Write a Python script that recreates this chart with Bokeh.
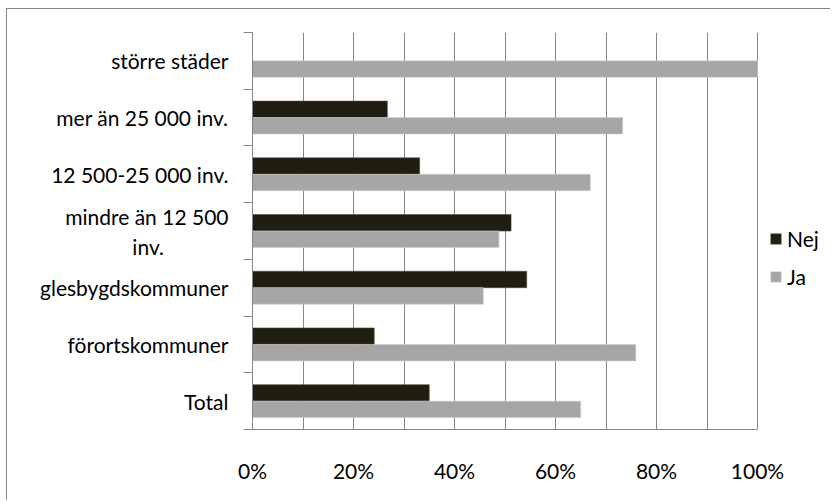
from bokeh.plotting import figure
from bokeh.models import FixedTicker, Legend, LegendItem
from bokeh.embed import file_html
from bokeh.resources import INLINE

categories = ["större städer", "mer än 25 000 inv.", "12 500-25 000 inv.",
              "mindre än 12 500\ninv." + "\u00a0" * 12, "glesbygdskommuner",
              "förortskommuner", "Total"]
nej = [0.0, 26.7, 33.1, 51.2, 54.3, 24.1, 35.0]
ja = [100.0, 73.3, 66.9, 48.8, 45.7, 75.9, 65.0]
x_ticks = [0, 20, 40, 60, 80, 100]
x_tick_labels = ["0%", "20%", "40%", "60%", "80%", "100%"]
grid_ticks = [0, 10, 20, 30, 40, 50, 60, 70, 80, 90, 100]
series = ["Nej", "Ja"]

FONT = "Lato"
FS = "21px"
GRAY = "#868686"
NEJ_COLOR = "#201d11"
JA_COLOR = "#a6a6a6"

W, H = 824, 492
LEFT, TOP, BOTTOM = 246, 24, 71
AXIS_PX = 505  # pixel length of 0..100 %
x_end = 100 * (W - LEFT) / AXIS_PX

n = len(categories)
centers = [n - i - 0.5 for i in range(n)]
bar_h = 0.29
off = 0.145

p = figure(width=W, height=H, x_range=(0, x_end), y_range=(0, n),
           output_backend="svg", toolbar_location=None,
           min_border_left=LEFT, min_border_right=0,
           min_border_top=TOP, min_border_bottom=BOTTOM)
p.outline_line_color = None
p.background_fill_color = "white"
p.border_fill_color = None
p.styles = {"margin-left": "6px", "margin-top": "8px",
            "box-shadow": "inset 1px 1px 0 " + GRAY}

r_nej = p.hbar(y=[c + off for c in centers], left=0, right=nej, height=bar_h,
               fill_color=NEJ_COLOR, line_color="#4a4a40", line_width=0.6)
r_ja = p.hbar(y=[c - off for c in centers], left=0, right=ja, height=bar_h,
              fill_color=JA_COLOR, line_color="#cfcfcf", line_width=0.6)

# y axis
p.yaxis.ticker = FixedTicker(ticks=centers, minor_ticks=list(range(n + 1)))
p.yaxis.major_label_overrides = {c: lab for c, lab in zip(centers, categories)}
p.yaxis.major_tick_line_color = None
p.yaxis.major_tick_out = 0
p.yaxis.major_tick_in = 0
p.yaxis.minor_tick_out = 9
p.yaxis.minor_tick_in = 0
p.yaxis.minor_tick_line_color = GRAY
p.yaxis.axis_line_color = GRAY
p.yaxis.major_label_standoff = 15
p.yaxis.major_label_text_font = FONT
p.yaxis.major_label_text_font_size = FS
p.yaxis.major_label_text_color = "black"

# x axis
p.xaxis.ticker = FixedTicker(ticks=x_ticks, minor_ticks=[])
p.xaxis.bounds = (0, 100)
p.xaxis.major_label_overrides = {t: lab for t, lab in zip(x_ticks, x_tick_labels)}
p.xaxis.major_tick_line_color = None
p.xaxis.major_tick_out = 0
p.xaxis.major_tick_in = 0
p.xaxis.axis_line_color = GRAY
p.xaxis.major_label_standoff = 28
p.xaxis.major_label_text_font = FONT
p.xaxis.major_label_text_font_size = FS
p.xaxis.major_label_text_color = "black"

p.xgrid.ticker = FixedTicker(ticks=grid_ticks)
p.xgrid.grid_line_color = GRAY
p.xgrid.grid_line_width = 1
p.ygrid.grid_line_color = None

legend = Legend(items=[LegendItem(label=series[0], renderers=[r_nej]),
                       LegendItem(label=series[1], renderers=[r_ja])],
                location=(517, 140))
legend.glyph_width = 13
legend.glyph_height = 13
legend.label_height = 13
legend.label_standoff = 5
legend.spacing = 13
legend.padding = 0
legend.margin = 0
legend.border_line_color = None
legend.background_fill_alpha = 0
legend.label_text_font = FONT
legend.label_text_font_size = FS
legend.label_text_color = "black"
p.add_layout(legend)

open("out.html", "w").write(file_html(p, INLINE))
